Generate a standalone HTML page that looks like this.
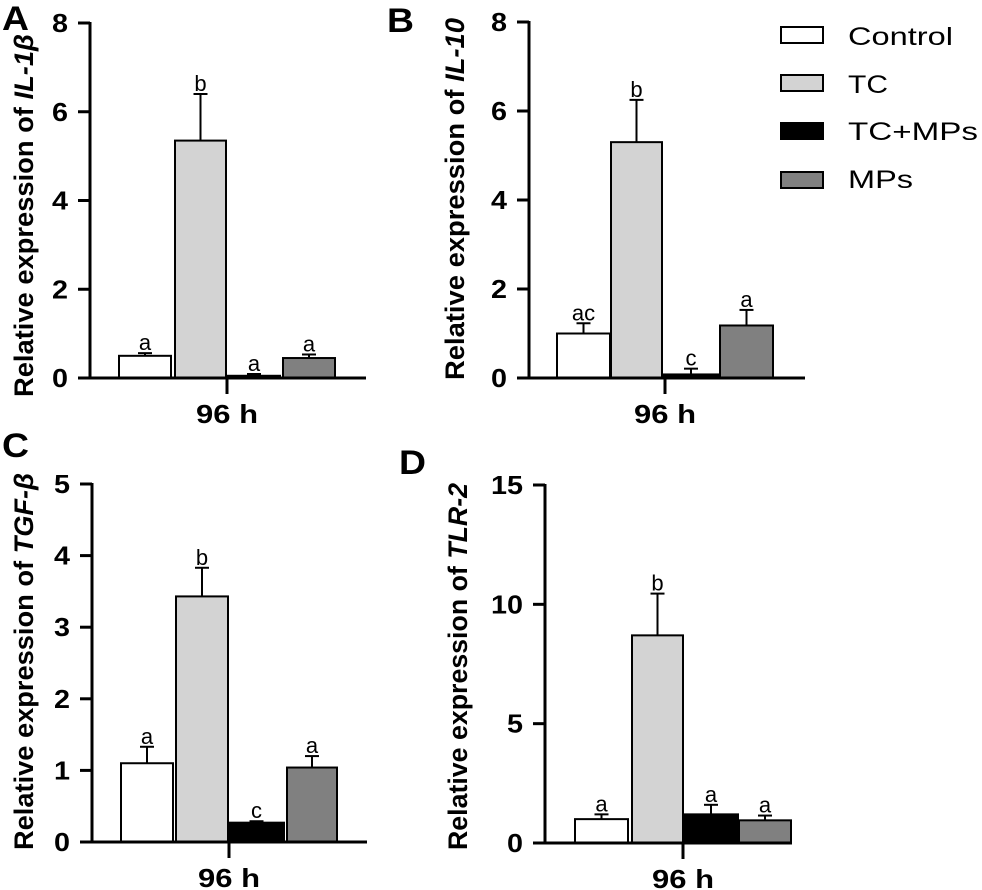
<!DOCTYPE html>
<html><head><meta charset="utf-8"><style>
html,body{margin:0;padding:0;background:#fff}
svg{display:block;font-family:"Liberation Sans",Arial,sans-serif}
</style></head><body>
<svg id="fig" width="982" height="890" viewBox="0 0 982 890" xmlns="http://www.w3.org/2000/svg">
<g>
  <g><rect x="781" y="27" width="42" height="16" fill="#fff" stroke="#000" stroke-width="2"/><text x="848" y="45" font-size="25" textLength="105" lengthAdjust="spacingAndGlyphs">Control</text></g>
  <g><rect x="781" y="75" width="42" height="16" fill="#d3d3d3" stroke="#000" stroke-width="2"/><text x="848" y="93" font-size="25" textLength="40" lengthAdjust="spacingAndGlyphs">TC</text></g>
  <g><rect x="781" y="123" width="42" height="16" fill="#000" stroke="#000" stroke-width="2"/><text x="848" y="140" font-size="25" textLength="130" lengthAdjust="spacingAndGlyphs">TC+MPs</text></g>
  <g><rect x="781" y="172" width="42" height="16" fill="#808080" stroke="#000" stroke-width="2"/><text x="848" y="188" font-size="25" textLength="65" lengthAdjust="spacingAndGlyphs">MPs</text></g>
</g>
</svg>
<script>
const groups = ["Control","TC","TC+MPs","MPs"];
const fills = ["#fff","#d3d3d3","#000","#808080"];
const valsA = [0.5, 5.35, 0.05, 0.45];
const errA  = [0.06, 1.05, 0.04, 0.08];
const sigA  = ["a","b","a","a"];
const ticksA = [0,2,4,6,8];
const valsB = [1.0, 5.3, 0.08, 1.18];
const errB  = [0.23, 0.95, 0.13, 0.35];
const sigB  = ["ac","b","c","a"];
const ticksB = [0,2,4,6,8];
const valsC = [1.1, 3.43, 0.27, 1.04];
const errC  = [0.23, 0.4, 0.02, 0.16];
const sigC  = ["a","b","c","a"];
const ticksC = [0,1,2,3,4,5];
const valsD = [1.0, 8.7, 1.2, 0.95];
const errD  = [0.2, 1.75, 0.4, 0.2];
const sigD  = ["a","b","a","a"];
const ticksD = [0,5,10,15];

const NS="http://www.w3.org/2000/svg";
const svg=document.getElementById('fig');
function mk(tag,attrs,parent){const e=document.createElementNS(NS,tag);for(const k in attrs)e.setAttribute(k,attrs[k]);(parent||svg).appendChild(e);return e;}

function panel(cfg,vals,errs,sigs,ticks){
  const g=mk('g',{});
  
  
  const ymax=ticks[ticks.length-1];
  const y=v=>cfg.y0-(v/ymax)*(cfg.y0-cfg.yt);
  const bx=i=>cfg.bx[i];
  vals.forEach((v,i)=>{
    const bw=cfg.bw[i];
    const top=y(v+errs[i]);
    const eb=mk('line',{x1:bx(i)+bw/2,x2:bx(i)+bw/2,y1:y(v),y2:top,stroke:'#000','stroke-width':2},g);
    
    
    mk('line',{x1:bx(i)+bw/2-7,x2:bx(i)+bw/2+7,y1:top,y2:top,stroke:'#000','stroke-width':2},g);
    const r=mk('rect',{x:bx(i),y:y(v),width:bw,height:Math.max(cfg.y0-y(v),1),fill:fills[i],stroke:'#000','stroke-width':2},g);
    
    
    const t=mk('text',{x:bx(i)+bw/2,y:top-3,'text-anchor':'middle','font-size':22},g);
    t.textContent=sigs[i];
    
    
  });
  mk('line',{x1:cfg.ax,x2:cfg.ax,y1:cfg.yt-1,y2:cfg.y0+1.5,stroke:'#000','stroke-width':3},g);
  const xa=mk('line',{x1:cfg.ax-1.5,x2:cfg.xe,y1:cfg.y0,y2:cfg.y0,stroke:'#000','stroke-width':3},g);
  
  
  mk('line',{x1:cfg.tk,x2:cfg.tk,y1:cfg.y0,y2:cfg.y0+16,stroke:'#000','stroke-width':3},g);
  const xl=mk('text',{x:cfg.tk-31,y:cfg.y0+45,'font-size':26,'font-weight':'bold',textLength:62,lengthAdjust:'spacingAndGlyphs'},g);
  xl.textContent='96 h';
  
  
  ticks.forEach(t=>{
    mk('line',{x1:cfg.ax-12,x2:cfg.ax,y1:y(t),y2:y(t),stroke:'#000','stroke-width':3},g);
    const s=String(t);
    const w=16*s.length;
    const tl=mk('text',{x:cfg.ax-22-w,y:y(t)+9,'font-size':26,'font-weight':'bold',textLength:w,lengthAdjust:'spacingAndGlyphs'},g);
    tl.textContent=s;
    
    
  });
  const yl=mk('text',{x:0,y:0,'font-size':27,'font-weight':'bold',textLength:cfg.tl,lengthAdjust:'spacingAndGlyphs',transform:`translate(${cfg.lx},${cfg.lb}) rotate(-90)`},g);
  yl.innerHTML='Relative expression of <tspan font-style="italic">'+cfg.gene+'</tspan>';
  
  
  const pl=mk('text',{x:cfg.px,y:cfg.py,'font-size':34,'font-weight':'bold',textLength:27,lengthAdjust:'spacingAndGlyphs'},g);
  pl.textContent=cfg.id;
  
  
}
panel({id:'A',ax:90,xe:366,y0:378,yt:23,bx:[119,175,228,283],bw:[52,51,52,52],tk:227,lx:33,lb:397,tl:363,gene:'IL-1β',px:2,py:30},valsA,errA,sigA,ticksA);
panel({id:'B',ax:529,xe:805,y0:378,yt:22,bx:[557,611,662,720],bw:[53,51,58,53],tk:665,lx:464,lb:380,tl:362,gene:'IL-10',px:387,py:32},valsB,errB,sigB,ticksB);
panel({id:'C',ax:92,xe:367,y0:842,yt:484,bx:[121,176,229,287],bw:[52,52,55,50],tk:229,lx:33,lb:850,tl:377,gene:'TGF-β',px:2,py:457},valsC,errC,sigC,ticksC);
panel({id:'D',ax:545,xe:792,y0:843,yt:485,bx:[575,632,684,739],bw:[53,51,54,52],tk:683,lx:467,lb:850,tl:367,gene:'TLR-2',px:399,py:474},valsD,errD,sigD,ticksD);
</script>
</body></html>
